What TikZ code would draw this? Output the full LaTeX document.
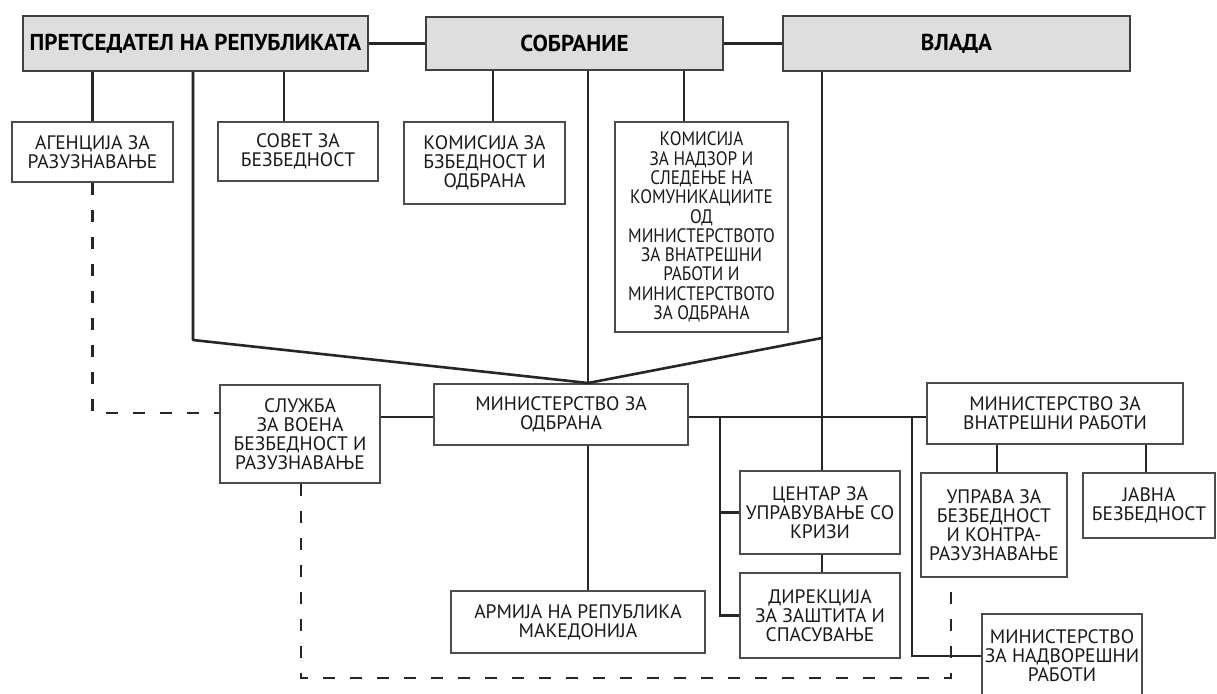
\documentclass[tikz,border=0pt]{standalone}
\usepackage{fontspec}
\setmainfont{PT Sans}
\newfontfamily\narrowfont[FakeStretch=0.88]{PT Sans}
\usetikzlibrary{calc}
\begin{document}
\begin{tikzpicture}[x=1pt,y=-1pt,
  topbox/.style={draw=black!75, line width=2pt, fill=black!13, inner sep=0pt,
    font=\bfseries\fontsize{23}{25}\selectfont, text=black},
  box/.style={draw=black!70, line width=2pt, fill=white, inner sep=0pt, align=center,
    font=\fontsize{19.5}{19}\selectfont, text=black!90},
  conn/.style={line width=2.6pt, draw=black!85},
  dashconn/.style={line width=2.6pt, draw=black!85, dash pattern=on 12pt off 15pt}]
\useasboundingbox (0,0) rectangle (1217,693);
\clip (0,0) rectangle (1217,693);
\fill[white] (0,0) rectangle (1217,693);
% columns / rows
\coordinate (x193) at (193,0);
\coordinate (x284) at (284,0);
\coordinate (x301) at (301,0);
\coordinate (x493) at (493,0);
\coordinate (x588) at (588,0);
\coordinate (x684) at (684,0);
\coordinate (x720) at (720,0);
\coordinate (x822) at (822,0);
\coordinate (x912) at (912,0);
\coordinate (x951) at (951,0);
\coordinate (x997) at (997,0);
\coordinate (x1146) at (1146,0);
\coordinate (y413) at (0,413);
\coordinate (y417) at (0,417);
\coordinate (y678) at (0,678);
\coordinate (cA) at (193,340);
\coordinate (cB) at (822,338);
% top row
\node[topbox, minimum width=345pt, minimum height=55pt] (pres) at (195.5,43.5) {ПРЕТСЕДАТЕЛ НА РЕПУБЛИКАТА};
\node[topbox, minimum width=297pt, minimum height=53pt] (sobr) at (574.5,43.5) {СОБРАНИЕ};
\node[topbox, minimum width=347pt, minimum height=54pt] (vlada) at (956.5,43.5) {ВЛАДА};
% second row
\node[box, minimum width=161pt, minimum height=60pt] (agen) at (92.5,152) {АГЕНЦИЈА ЗА\\РАЗУЗНАВАЊЕ};
\node[box, minimum width=160pt, minimum height=59pt] (sovet) at (298,151.5) {СОВЕТ ЗА\\БЕЗБЕДНОСТ};
\node[box, minimum width=161pt, minimum height=82pt] (kom1) at (484.5,163) {КОМИСИЈА ЗА\\БЗБЕДНОСТ И\\ОДБРАНА};
\node[box, minimum width=173pt, minimum height=210pt, font=\narrowfont\fontsize{19.5}{19.3}\selectfont] (kom2) at (701.5,227) {КОМИСИЈА\\ЗА НАДЗОР И\\СЛЕДЕЊЕ НА\\КОМУНИКАЦИИТЕ\\ОД\\МИНИСТЕРСТВОТО\\ЗА ВНАТРЕШНИ\\РАБОТИ И\\МИНИСТЕРСТВОТО\\ЗА ОДБРАНА};
% third row
\node[box, minimum width=160pt, minimum height=98pt] (sluzba) at (300,434) {СЛУЖБА\\ЗА ВОЕНА\\БЕЗБЕДНОСТ И\\РАЗУЗНАВАЊЕ};
\node[box, minimum width=254pt, minimum height=61pt] (mo) at (561,414.5) {МИНИСТЕРСТВО ЗА\\ОДБРАНА};
\node[box, minimum width=256pt, minimum height=61pt] (mvr) at (1055,413.5) {МИНИСТЕРСТВО ЗА\\ВНАТРЕШНИ РАБОТИ};
\node[box, minimum width=146pt, minimum height=104pt] (uprava) at (994,525) {УПРАВА ЗА\\БЕЗБЕДНОСТ\\И КОНТРА-\\РАЗУЗНАВАЊЕ};
\node[box, minimum width=132pt, minimum height=65pt] (javna) at (1149,505.5) {ЈАВНА\\БЕЗБЕДНОСТ};
\node[box, minimum width=160pt, minimum height=83pt] (centar) at (820,512.5) {ЦЕНТАР ЗА\\УПРАВУВАЊЕ СО\\КРИЗИ};
\node[box, minimum width=160pt, minimum height=85pt] (direk) at (820,615.5) {ДИРЕКЦИЈА\\ЗА ЗАШТИТА И\\СПАСУВАЊЕ};
\node[box, minimum width=254pt, minimum height=62pt] (armija) at (578,622) {АРМИЈА НА РЕПУБЛИКА\\МАКЕДОНИЈА};
\node[box, minimum width=160pt, minimum height=84pt] (mnr) at (1062,656) {МИНИСТЕРСТВО\\ЗА НАДВОРЕШНИ\\РАБОТИ};
% solid connectors
\draw[conn] (pres) -- (sobr);
\draw[conn] (sobr) -- (vlada);
\draw[conn] (pres.south -| agen.north) -- (agen.north);
\draw[conn] (pres.south -| x284) -- (sovet.north -| x284);
\draw[conn, line join=round] (pres.south -| x193) -- (cA) -- (mo.north -| x588) -- (cB);
\draw[conn] (sobr.south -| x493) -- (kom1.north -| x493);
\draw[conn] (sobr.south -| x588) -- (mo.north -| x588);
\draw[conn] (sobr.south -| x684) -- (kom2.north -| x684);
\draw[conn] (vlada.south -| x822) -- (centar.north -| x822);
\draw[conn] (centar.south -| x822) -- (direk.north -| x822);
\draw[conn] (sluzba.east |- y417) -- (mo.west |- y417);
\draw[conn] (mo.east |- y417) -- (mvr.west |- y417);
\draw[conn] (centar.west) -| (x720 |- y417);
\draw[conn] (direk.west) -| (x720 |- y417);
\draw[conn] (mnr.west) -| (x912 |- y417);
\draw[conn] (mvr.south -| x997) -- (uprava.north -| x997);
\draw[conn] (mvr.south -| x1146) -- (javna.north -| x1146);
\draw[conn] (mo.south -| x588) -- (armija.north -| x588);
% dashed connectors
\draw[dashconn] (agen.south) |- (sluzba.west |- y413);
\draw[dashconn] (sluzba.south -| x301) -- (x301 |- y678) -- (x951 |- y678) -- (uprava.south -| x951);
\end{tikzpicture}
\end{document}
